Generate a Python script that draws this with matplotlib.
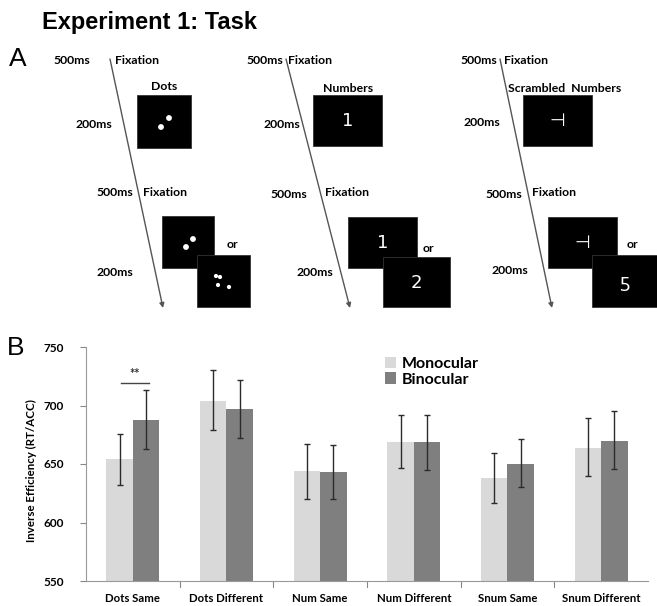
import matplotlib.pyplot as plt
from matplotlib.patches import Rectangle, Circle

# bar chart data: inverse efficiency (RT/ACC)
conditions = ["Dots Same", "Dots Different", "Num Same", "Num Different", "Snum Same", "Snum Different"]
monocular = [654, 704, 644, 669, 638, 664]
binocular = [688, 697, 643, 669, 650, 670]
mono_hi = [676, 730, 667, 692, 659, 689]
mono_lo = [632, 679, 620, 647, 617, 640]
bino_hi = [713, 722, 666, 692, 671, 695]
bino_lo = [663, 672, 620, 645, 630, 646]

# task diagram: three stimulus types
stim_titles = ["Dots", "Numbers", "Scrambled  Numbers"]
stim_first = [None, "1", "\u22a3"]
stim_second = [None, "2", "\u01bd"]

FONT = "Lato"

fig = plt.figure(figsize=(6.57, 6.06), dpi=100)

# ---- panel A, drawn on a pixel-scaled overlay ----
pa = fig.add_axes([0, 0, 1, 1])
pa.set_xlim(0, 657)
pa.set_ylim(606, 0)
pa.axis("off")

pa.text(42, 22, "Experiment 1: Task", fontsize=17, fontweight="bold",
        family="Liberation Sans", va="center", ha="left")
pa.text(9, 59, "A", fontsize=19, family="Liberation Sans", va="center", ha="left")
pa.text(7, 348, "B", fontsize=19, family="Liberation Sans", va="center", ha="left")

# column layout (pixels): arrow start/end, label spots, boxes
cols = [
    dict(arrow=((110, 59), (163, 308)), t500a=(90, 61), fixa=(115, 61),
         title=(164, 87), box1=(137, 95, 54, 53), t200a=(112, 125),
         t500b=(133, 193), fixb=(143, 193),
         box2=(162, 216, 52, 52), box3=(197, 255, 53, 52), orr=(232, 244),
         t200b=(133, 273)),
    dict(arrow=((286, 59), (350, 308)), t500a=(283, 61), fixa=(288, 61),
         title=(348, 88), box1=(313, 95, 69, 51), t200a=(300, 125),
         t500b=(307, 195), fixb=(325, 193),
         box2=(348, 217, 69, 51), box3=(383, 257, 67, 50), orr=(428, 249),
         t200b=(333, 272)),
    dict(arrow=((500, 59), (552, 308)), t500a=(497, 61), fixa=(504, 61),
         title=(565, 88), box1=(523, 95, 69, 51), t200a=(500, 123),
         t500b=(522, 194), fixb=(532, 192),
         box2=(548, 217, 69, 51), box3=(592, 255, 65, 52), orr=(632, 244),
         t200b=(528, 270)),
]

lab = dict(fontsize=8.8, fontweight="bold", family=FONT, va="center")
for i, c in enumerate(cols):
    (x0, y0), (x1, y1) = c["arrow"]
    pa.annotate("", xy=(x1, y1), xytext=(x0, y0),
                arrowprops=dict(arrowstyle="-|>", color="#555555", lw=1.0,
                                mutation_scale=7, shrinkA=0, shrinkB=0))
    pa.text(*c["t500a"], "500ms", ha="right", **lab)
    pa.text(*c["fixa"], "Fixation", ha="left", **lab)
    pa.text(*c["title"], stim_titles[i], ha="center", **lab)
    pa.text(*c["t200a"], "200ms", ha="right", **lab)
    pa.text(*c["t500b"], "500ms", ha="right", **lab)
    pa.text(*c["fixb"], "Fixation", ha="left", **lab)
    pa.text(*c["t200b"], "200ms", ha="right", **lab)
    pa.text(*c["orr"], "or", ha="center", **lab)
    for key in ("box1", "box2", "box3"):
        bx, by, bw, bh = c[key]
        pa.add_patch(Rectangle((bx, by), bw, bh, facecolor="black",
                               edgecolor="#333333", lw=0.6, zorder=2))
    if stim_first[i] is not None:
        for key, glyph in (("box1", stim_first[i]), ("box2", stim_first[i]),
                           ("box3", stim_second[i])):
            bx, by, bw, bh = c[key]
            pa.text(bx + bw / 2, by + bh / 2 + 1, glyph, color="white",
                    fontsize=13, family="DejaVu Sans", ha="center", va="center",
                    zorder=3)

# dot stimuli
for (px, py) in [(169, 118), (161, 127), (193, 239), (186, 247),
                 (216, 276), (220, 277), (218, 285), (229, 287)]:
    r = 2.2 if py < 260 else 1.4
    pa.add_patch(Circle((px, py), r, color="white", zorder=3))

# ---- panel B, bar chart ----
ax = fig.add_axes([86 / 657, 1 - 581 / 606, 562 / 657, 234 / 606])
x = list(range(len(conditions)))
w = 0.283
xm = [i - w / 2 for i in x]
xb = [i + w / 2 for i in x]

ax.bar(xm, [v - 550 for v in monocular], w, bottom=550, color="#d9d9d9",
       label="Monocular", zorder=2)
ax.bar(xb, [v - 550 for v in binocular], w, bottom=550, color="#7f7f7f",
       label="Binocular", zorder=2)

err_kw = dict(fmt="none", ecolor="#2b2b2b", elinewidth=1.0, capsize=2.5,
              capthick=1.0, zorder=3)
ax.errorbar(xm, monocular, yerr=[[m - l for m, l in zip(monocular, mono_lo)],
                                 [h - m for m, h in zip(monocular, mono_hi)]], **err_kw)
ax.errorbar(xb, binocular, yerr=[[b - l for b, l in zip(binocular, bino_lo)],
                                 [h - b for b, h in zip(binocular, bino_hi)]], **err_kw)

# significance marker for Dots Same
ax.plot([xm[0] + 0.02, xb[0] + 0.03], [719.5, 719.5], color="#444444", lw=1.0)
ax.text((xm[0] + xb[0]) / 2 + 0.02, 727, "**", ha="center", va="center",
        fontsize=9, fontweight="bold", family=FONT, color="#333333")

ax.set_xlim(-0.5, len(conditions) - 0.5)
ax.set_ylim(550, 750)
ax.set_yticks([550, 600, 650, 700, 750])
ax.set_yticklabels(["550", "600", "650", "700", "750"], fontsize=8.5,
                   fontweight="bold", family=FONT)
ax.set_xticks(x)
ax.set_xticklabels(conditions, fontsize=8.2, fontweight="bold", family=FONT)
ax.tick_params(axis="x", length=0, pad=9)
ax.tick_params(axis="y", length=4, color="#888888", pad=12)
for b in [i + 0.5 for i in x[:-1]]:
    ax.plot([b, b], [550, 545], color="#888888", lw=0.8, clip_on=False)

for s in ("top", "right"):
    ax.spines[s].set_visible(False)
for s in ("left", "bottom"):
    ax.spines[s].set_color("#999999")
    ax.spines[s].set_linewidth(0.8)

ax.set_ylabel("Inverse Efficiency (RT/ACC)", fontsize=8.3, fontweight="bold",
              family=FONT)
ax.yaxis.set_label_coords(-0.088, 0.47)

ax.legend(loc="upper left", bbox_to_anchor=(0.507, 1.02), frameon=False,
          prop=dict(family=FONT, weight="bold", size=11.5), handlelength=0.7,
          handleheight=0.7, handletextpad=0.3, labelspacing=0.1)

fig.savefig("out.png", dpi=100)
